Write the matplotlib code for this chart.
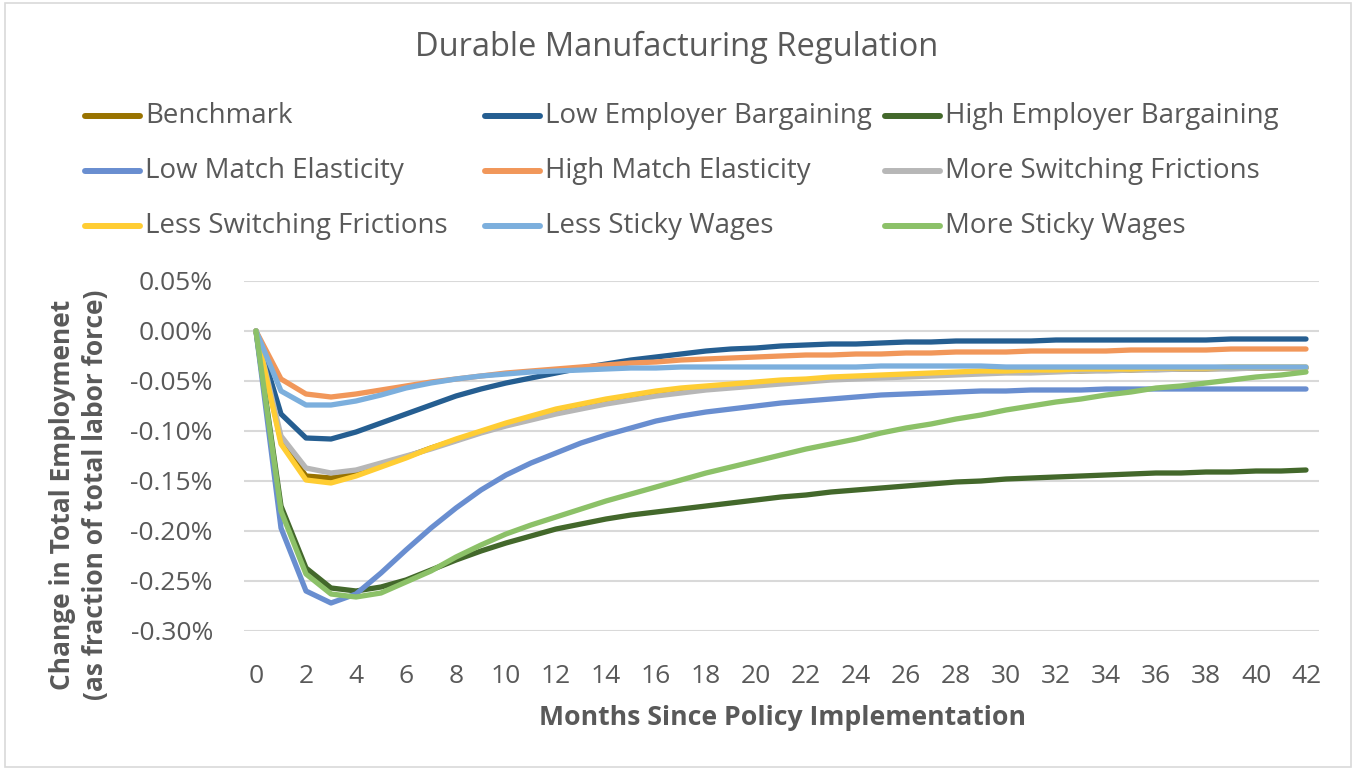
import matplotlib
matplotlib.use("Agg")
import matplotlib.pyplot as plt
from matplotlib.lines import Line2D
from matplotlib.patches import Rectangle
from matplotlib.ticker import FuncFormatter, MultipleLocator

months = list(range(43))

benchmark = [0, -0.110, -0.145, -0.147, -0.143, -0.134, -0.126, -0.117, -0.109, -0.101, -0.094,
             -0.087, -0.081, -0.076, -0.071, -0.067, -0.063, -0.060, -0.057, -0.055, -0.053,
             -0.051, -0.049, -0.048, -0.047, -0.046, -0.045, -0.044, -0.043, -0.042, -0.041,
             -0.041, -0.040, -0.040, -0.039, -0.039, -0.038, -0.038, -0.038, -0.037, -0.037,
             -0.037, -0.037]
low_employer = [0, -0.083, -0.107, -0.108, -0.101, -0.092, -0.083, -0.074, -0.065, -0.058, -0.052,
                -0.047, -0.042, -0.037, -0.033, -0.029, -0.026, -0.023, -0.020, -0.018, -0.017,
                -0.015, -0.014, -0.013, -0.013, -0.012, -0.011, -0.011, -0.010, -0.010, -0.010,
                -0.010, -0.009, -0.009, -0.009, -0.009, -0.009, -0.009, -0.009, -0.008, -0.008,
                -0.008, -0.008]
high_employer = [0, -0.175, -0.237, -0.257, -0.260, -0.256, -0.249, -0.239, -0.229, -0.220, -0.212,
                 -0.205, -0.198, -0.193, -0.188, -0.184, -0.181, -0.178, -0.175, -0.172, -0.169,
                 -0.166, -0.164, -0.161, -0.159, -0.157, -0.155, -0.153, -0.151, -0.150, -0.148,
                 -0.147, -0.146, -0.145, -0.144, -0.143, -0.142, -0.142, -0.141, -0.141, -0.140,
                 -0.140, -0.139]
low_match = [0, -0.197, -0.260, -0.272, -0.263, -0.242, -0.219, -0.197, -0.177, -0.159, -0.144,
             -0.132, -0.122, -0.112, -0.104, -0.097, -0.090, -0.085, -0.081, -0.078, -0.075,
             -0.072, -0.070, -0.068, -0.066, -0.064, -0.063, -0.062, -0.061, -0.060, -0.060,
             -0.059, -0.059, -0.059, -0.058, -0.058, -0.058, -0.058, -0.058, -0.058, -0.058,
             -0.058, -0.058]
high_match = [0, -0.048, -0.063, -0.066, -0.063, -0.059, -0.055, -0.051, -0.048, -0.045, -0.042,
              -0.040, -0.038, -0.036, -0.034, -0.032, -0.031, -0.029, -0.028, -0.027, -0.026,
              -0.025, -0.024, -0.024, -0.023, -0.023, -0.022, -0.022, -0.021, -0.021, -0.021,
              -0.020, -0.020, -0.020, -0.020, -0.019, -0.019, -0.019, -0.019, -0.018, -0.018,
              -0.018, -0.018]
more_switching = [0, -0.105, -0.137, -0.142, -0.139, -0.132, -0.125, -0.118, -0.110, -0.102, -0.095,
                  -0.089, -0.083, -0.078, -0.073, -0.069, -0.065, -0.062, -0.059, -0.057, -0.055,
                  -0.053, -0.051, -0.049, -0.048, -0.047, -0.046, -0.045, -0.044, -0.043, -0.042,
                  -0.042, -0.041, -0.040, -0.040, -0.039, -0.039, -0.038, -0.038, -0.038, -0.037,
                  -0.037, -0.037]
less_switching = [0, -0.113, -0.149, -0.152, -0.145, -0.136, -0.127, -0.117, -0.108, -0.100, -0.092,
                  -0.085, -0.078, -0.073, -0.068, -0.064, -0.060, -0.057, -0.055, -0.053, -0.051,
                  -0.049, -0.048, -0.046, -0.045, -0.044, -0.043, -0.042, -0.041, -0.040, -0.040,
                  -0.039, -0.039, -0.038, -0.038, -0.038, -0.037, -0.037, -0.037, -0.036, -0.036,
                  -0.036, -0.036]
less_sticky = [0, -0.060, -0.074, -0.074, -0.070, -0.064, -0.057, -0.052, -0.048, -0.045, -0.043,
               -0.041, -0.040, -0.039, -0.038, -0.037, -0.037, -0.036, -0.036, -0.036, -0.036,
               -0.036, -0.036, -0.036, -0.036, -0.035, -0.035, -0.035, -0.035, -0.035, -0.036,
               -0.036, -0.036, -0.036, -0.036, -0.036, -0.036, -0.036, -0.036, -0.036, -0.036,
               -0.036, -0.036]
more_sticky = [0, -0.180, -0.243, -0.263, -0.266, -0.262, -0.251, -0.240, -0.226, -0.214, -0.203,
               -0.194, -0.186, -0.178, -0.170, -0.163, -0.156, -0.149, -0.142, -0.136, -0.130,
               -0.124, -0.118, -0.113, -0.108, -0.102, -0.097, -0.093, -0.088, -0.084, -0.079,
               -0.075, -0.071, -0.068, -0.064, -0.061, -0.057, -0.055, -0.052, -0.049, -0.046,
               -0.044, -0.041]

series_names = ["Benchmark", "Low Employer Bargaining", "High Employer Bargaining",
                "Low Match Elasticity", "High Match Elasticity", "More Switching Frictions",
                "Less Switching Frictions", "Less Sticky Wages", "More Sticky Wages"]
series_values = [benchmark, low_employer, high_employer, low_match, high_match,
                 more_switching, less_switching, less_sticky, more_sticky]
series_colors = ["#997300", "#255E91", "#43682B", "#698ED0", "#F1975A",
                 "#B7B7B7", "#FFCD33", "#7CAFDD", "#8CC168"]

title = "Durable Manufacturing Regulation"
xlabel = "Months Since Policy Implementation"
ylabel = "Change in Total Employmenet\n(as fraction of total labor force)"

plt.rcParams['font.family'] = ['Open Sans', 'DejaVu Sans']
TXT = "#595959"

W, H = 1356, 770
fig = plt.figure(figsize=(W / 100, H / 100), dpi=100)
fig.patch.set_facecolor("white")

ax = fig.add_axes([243.5 / W, 1 - 631 / H, (1318.5 - 243.5) / W, (631 - 281) / H])
for name, vals, col in zip(series_names, series_values, series_colors):
    ax.plot(months, vals, color=col, lw=3.8, solid_capstyle='round', solid_joinstyle='round',
            zorder=3)

ax.set_xlim(-0.5, 42.5)
ax.set_ylim(-0.30, 0.05)
ax.xaxis.set_major_locator(MultipleLocator(2))
ax.yaxis.set_major_locator(MultipleLocator(0.05))
ax.yaxis.set_major_formatter(FuncFormatter(lambda v, p: f"{v:.2f}%".replace("-0.00", "0.00")))
ax.grid(axis='y', color="#d9d9d9", lw=1.5, zorder=0)
for s in ax.spines.values():
    s.set_visible(False)
ax.tick_params(length=0, labelsize=19, labelcolor=TXT)
ax.tick_params(axis='y', pad=22)
ax.tick_params(axis='x', pad=24)

fig.text(677 / W, 1 - 47 / H, title, ha='center', va='center', fontsize=23.5, color=TXT)
fig.text(783 / W, 1 - 718 / H, xlabel, ha='center', va='center', fontsize=19.2,
         fontweight='bold', color=TXT)
fig.text(79 / W, 1 - 495 / H, ylabel, ha='center', va='center', rotation=90, fontsize=19,
         fontweight='bold', color=TXT, linespacing=1.25, multialignment='center')

# legend (3 columns, Excel style)
col_x = [85, 485, 885]
row_y = [116, 171, 226]
for i, (name, col) in enumerate(zip(series_names, series_colors)):
    r, c = divmod(i, 3)
    x0 = col_x[c]
    y0 = 1 - row_y[r] / H
    fig.add_artist(Line2D([x0 / W, (x0 + 55) / W], [y0, y0], color=col, lw=4.3,
                          solid_capstyle='round', transform=fig.transFigure))
    fig.text((x0 + 60) / W, y0, name, ha='left', va='center', fontsize=19.9, color=TXT)

fig.add_artist(Rectangle((5 / W, 3 / H), (W - 10) / W, (H - 6) / H, fill=False,
                         edgecolor="#d9d9d9", lw=1.2, transform=fig.transFigure))

fig.savefig("out.png", dpi=100)
